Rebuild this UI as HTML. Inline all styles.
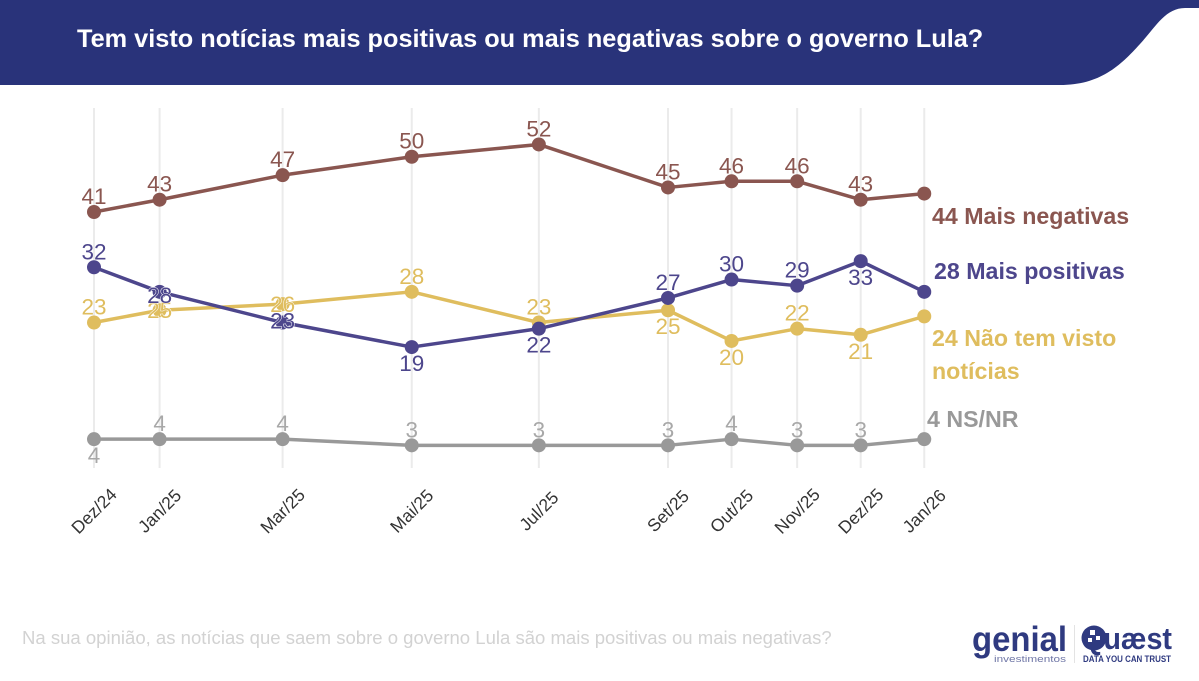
<!DOCTYPE html>
<html lang="pt">
<head>
<meta charset="utf-8">
<title>Notícias sobre o governo Lula</title>
<style>
html,body{margin:0;padding:0;background:#fff;width:1199px;height:681px;overflow:hidden}
svg{display:block;font-family:"Liberation Sans",sans-serif}
</style>
</head>
<body>
<svg id="chart" width="1199" height="681" viewBox="0 0 1199 681" xmlns="http://www.w3.org/2000/svg">
  <path d="M0 0H1199V8H1185C1165 8 1155 28 1140 44C1120 66 1100 85 1060 85H0Z" fill="#29337a"/>
  <text x="77" y="47" font-size="25.3" font-weight="700" fill="#fff">Tem visto notícias mais positivas ou mais negativas sobre o governo Lula?</text>
  <g id="grid"></g>
  <g id="series"></g>
  <g id="xaxis"></g>
  <g font-size="23.2" font-weight="700">
    <text x="932" y="224" fill="#8a5650">44 Mais negativas</text>
    <text x="934" y="279" fill="#4d468c">28 Mais positivas</text>
    <text x="932" y="346" fill="#dfbd5e">24 Não tem visto</text>
    <text x="932" y="379" fill="#dfbd5e">notícias</text>
    <text x="927" y="427" fill="#999">4 NS/NR</text>
  </g>
  <text x="22" y="644" font-size="18.55" fill="#d2d2d2">Na sua opinião, as notícias que saem sobre o governo Lula são mais positivas ou mais negativas?</text>
  <g>
    <text x="972" y="651" font-size="35" font-weight="700" fill="#2f3a80" textLength="95" lengthAdjust="spacingAndGlyphs">genial</text>
    <text x="994" y="662" font-size="9.5" fill="#6f76a6" textLength="72" lengthAdjust="spacingAndGlyphs">investimentos</text>
    <rect x="1074" y="625" width="1" height="38" fill="#e3e3e3"/>
    <text x="1081" y="649" font-size="31" font-weight="700" fill="#2f3a80" textLength="91" lengthAdjust="spacingAndGlyphs">Quæst</text>
    <circle cx="1094" cy="638" r="12.5" fill="#2f3a80"/>
    <rect x="1090" y="630" width="5" height="5" fill="#fff"/>
    <rect x="1096" y="636" width="4" height="4" fill="#fff"/>
    <rect x="1088" y="638" width="4" height="4" fill="#fff"/>
    <text x="1083" y="662" font-size="9" font-weight="700" fill="#2f3a80" textLength="88" lengthAdjust="spacingAndGlyphs">DATA YOU CAN TRUST</text>
  </g>
</svg>
<script>
const categories = ['Dez/24','Jan/25','Mar/25','Mai/25','Jul/25','Set/25','Out/25','Nov/25','Dez/25','Jan/26'];
const surveyDay = [0,32,92,155,217,280,311,343,374,405];
const maisNegativas = [41,43,47,50,52,45,46,46,43,44];
const maisPositivas = [32,28,23,19,22,27,30,29,33,28];
const naoTemVisto = [23,25,26,28,23,25,20,22,21,24];
const nsNr = [4,4,4,3,3,3,4,3,3,4];
const negativasPlacement = ['up','up','up','up','up','up','up','up','up','none'];
const positivasPlacement = ['up','onLow','onHigh','down','down','up','up','up','down','none'];
const naoTemPlacement = ['up','on','on','up','up','down','down','up','down','none'];
const nsNrPlacement = ['down','up','up','up','up','up','up','up','up','none'];

const NS = 'http://www.w3.org/2000/svg';
function xScale(d){ return 94 + d * 2.05; }
function yScale(v){ return 212 - (v - 41) * 6.14; }
const labelOffset = {up:-8, down:24, on:8, onLow:11, onHigh:6};
function make(tag, attrs, parent){
  const el = document.createElementNS(NS, tag);
  for (const k in attrs) el.setAttribute(k, attrs[k]);
  parent.appendChild(el);
  return el;
}
const grid = document.getElementById('grid');
const xaxis = document.getElementById('xaxis');
const seriesLayer = document.getElementById('series');

categories.forEach(function(c, i){
  const x = xScale(surveyDay[i]);
  const g = make('line', {x1:x, x2:x, y1:108, y2:468, stroke:'#ebebeb', 'stroke-width':2}, grid);
  
  
  const t = make('text', {x:x, y:517, 'font-size':17.5, fill:'#333', 'text-anchor':'middle', transform:'rotate(-45 ' + x + ' 511)'}, xaxis);
  
  
  t.textContent = c;
});

const drawOrder = [
  {key:'ns-nr', values:nsNr, place:nsNrPlacement, color:'#999999', text:'#a8a8a8'},
  {key:'nao-tem-visto', values:naoTemVisto, place:naoTemPlacement, color:'#dfbd5e', text:'#dfbd5e'},
  {key:'mais-positivas', values:maisPositivas, place:positivasPlacement, color:'#4d468c', text:'#4d468c'},
  {key:'mais-negativas', values:maisNegativas, place:negativasPlacement, color:'#8a5650', text:'#8a5650'}
];

drawOrder.forEach(function(s){
  const labelGroup = make('g', {}, seriesLayer);
  
  
  const pts = s.values.map(function(v, i){ return xScale(surveyDay[i]) + ',' + yScale(v); }).join(' ');
  const line = make('polyline', {points:pts, fill:'none', stroke:s.color, 'stroke-width':3.5, 'stroke-linejoin':'round'}, seriesLayer);
  
  
  s.values.forEach(function(v, i){
    const x = xScale(surveyDay[i]), y = yScale(v);
    const c = make('circle', {cx:x, cy:y, r:7, fill:s.color}, seriesLayer);
    
    
    const p = s.place[i];
    if (p === 'none') return;
    const on = p.indexOf('on') === 0;
    const t = make('text', {x:x, y:y + labelOffset[p], 'font-size':22.5, fill:s.text, 'text-anchor':'middle'}, on ? seriesLayer : labelGroup);
    if (on) {
      t.setAttribute('stroke', '#fff');
      t.setAttribute('stroke-width', '1');
      t.setAttribute('paint-order', 'stroke');
    }
    
    
    t.textContent = v;
  });
});
</script>
</body>
</html>
